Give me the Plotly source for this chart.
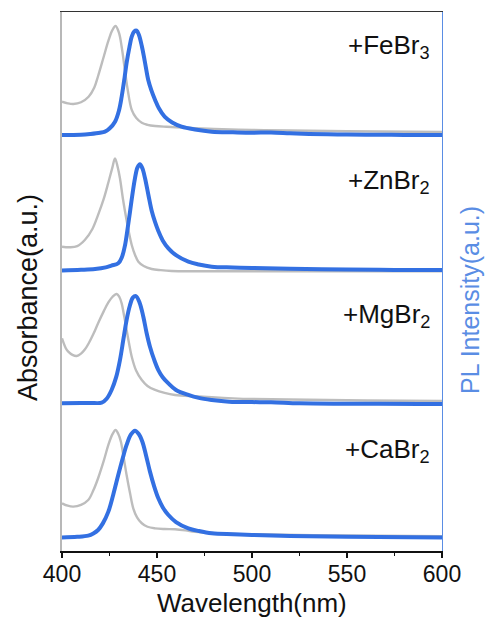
import plotly.graph_objects as go
from plotly.subplots import make_subplots

FONT = "Liberation Sans, Arial, sans-serif"

# ---- data (a.u.) ----
labels = ["+FeBr<sub>3</sub>", "+ZnBr<sub>2</sub>", "+MgBr<sub>2</sub>", "+CaBr<sub>2</sub>"]

fe_abs_wl = [400, 403, 406, 410, 414, 417, 419, 422, 424.4, 426.5, 428.2, 430, 431.4, 433, 434.5, 436.7, 439, 442, 445, 449, 455, 460, 470, 480, 500, 520, 550, 600]
fe_abs = [33.4, 32.2, 31.7, 33.0, 37.1, 44, 52.5, 67, 78.5, 86.5, 89.6, 84.5, 74.2, 58, 43, 27.3, 21.5, 17.8, 16.3, 15.4, 14.8, 14.4, 13.8, 13.2, 12.5, 12.1, 11.5, 10.9]
fe_pl_wl = [400, 410, 415, 420, 422.6, 425, 427.9, 430, 431.4, 433, 434, 435.5, 436.7, 438, 439.3, 440.5, 442, 443.5, 445.4, 447, 449, 451, 454, 458, 462.9, 470, 478.8, 490, 500, 510, 520, 530, 545, 560, 580, 600]
fe_pl = [8.7, 8.9, 9.5, 10.4, 11.2, 13.5, 18.6, 27, 37.1, 52, 62.2, 74, 81.7, 85.5, 86.1, 83, 74.8, 64, 49.5, 42, 34.7, 28.5, 22.3, 18, 14.9, 12.8, 11.2, 10.7, 10.4, 10.6, 10.0, 9.5, 9.1, 8.9, 8.8, 8.7]

zn_abs_wl = [400, 404, 408, 412, 416, 419, 422, 424.4, 426.5, 427.9, 429.3, 430.5, 432, 433.2, 435, 436.7, 438.5, 440.2, 443, 447.2, 452, 457.7, 470, 500, 600]
zn_abs = [25.8, 25.4, 26.2, 30.8, 39, 49.5, 61.5, 73.5, 84.5, 91.4, 85, 76.6, 62, 51.8, 38, 27.1, 19.5, 14.7, 11.5, 9.3, 8.4, 7.8, 7.6, 7.6, 7.6]
zn_pl_wl = [400, 410, 417.4, 423, 426, 429.6, 431.5, 433.2, 434.5, 435.8, 437, 438.4, 439.7, 441, 442.3, 443.7, 445.5, 447.2, 449, 450.7, 453, 456, 460, 466.5, 472, 478.8, 490, 500, 520, 550, 575, 600]
zn_pl = [8.2, 8.7, 9.3, 10.5, 11.8, 13.5, 18, 27.1, 39, 51.8, 64, 76.6, 84.5, 87, 84, 76.6, 64, 52.5, 44, 37.5, 30.5, 24.6, 19.5, 14.7, 12.6, 11, 10.4, 10.0, 9.5, 8.9, 8.6, 8.5]

mg_abs_wl = [400, 402, 403.3, 405.5, 407.7, 410, 412, 414, 416.5, 419, 422, 424.4, 426.5, 428.8, 430.2, 431.4, 432.7, 434, 435.3, 436.7, 439, 442, 445, 449, 454, 459.5, 470, 478.8, 490, 500, 530, 560, 600]
mg_abs = [57.8, 50.5, 47.9, 45.5, 44.7, 46.5, 49.5, 54, 61, 69, 78, 84.5, 88.5, 90.7, 88.5, 83.8, 74.5, 64, 54, 44.2, 34, 26.9, 22.5, 19.5, 17.3, 15.8, 14.8, 14.1, 13.3, 12.8, 12.2, 11.7, 11.3]
mg_pl_wl = [400, 410, 415, 420.9, 423.5, 426.1, 428.5, 430.5, 432.3, 434, 435.7, 437.3, 438.9, 440.8, 442.8, 444.5, 446.3, 448.5, 450.7, 453, 456, 460, 466.5, 472, 478.8, 488, 500, 510, 525, 550, 588, 600]
mg_pl = [9.6, 9.8, 9.9, 10.1, 13, 19.5, 29, 41.7, 57, 71.4, 82, 88, 89.2, 84.5, 73.9, 62, 51.6, 42, 34.3, 29, 24.4, 19.5, 15.8, 13.6, 12.1, 10.8, 10.5, 10.4, 9.6, 9.3, 9.1, 9.1]

ca_abs_wl = [400, 403, 405.9, 410, 413.8, 416.5, 419, 422, 424.4, 426.5, 428.2, 429.6, 431, 432.5, 434, 435.8, 437.5, 439.5, 442, 445, 449, 454, 459.5, 465, 470, 480, 500, 550, 600]
ca_abs = [35.4, 33.6, 32.9, 34.2, 37.8, 45, 54, 67, 78.7, 86.5, 89.8, 87, 81.1, 69, 56.4, 43, 31.7, 25, 20.6, 18, 16.8, 16.3, 16.1, 15.3, 14.3, 13.3, 12.4, 11.5, 11.0]
ca_pl_wl = [400, 408, 413.8, 416.5, 419, 421.5, 424.4, 427, 429.6, 432, 434, 436.3, 438.4, 440.3, 442.3, 444.3, 446.3, 448.5, 450.7, 453, 456, 460, 466.5, 472, 478.8, 490, 500, 520, 550, 600]
ca_pl = [10.1, 10.5, 11.4, 13, 15.6, 20.5, 29.2, 42, 56.4, 69, 78.7, 86.5, 89.3, 87, 81.1, 70.5, 58.9, 48, 39.1, 32.5, 26.7, 21.5, 16.8, 14.8, 13.1, 12.4, 11.9, 11.2, 10.6, 10.1]

x_ticks = [400, 450, 500, 550, 600]

panels = [
    (fe_abs_wl, fe_abs, fe_pl_wl, fe_pl),
    (zn_abs_wl, zn_abs, zn_pl_wl, zn_pl),
    (mg_abs_wl, mg_abs, mg_pl_wl, mg_pl),
    (ca_abs_wl, ca_abs, ca_pl_wl, ca_pl),
]

GRAY = "#bdbdbd"
BLUE = "#3370e2"
AXBLUE = "#5a8de4"

fig = make_subplots(rows=4, cols=1, shared_xaxes=True, vertical_spacing=0,
                    specs=[[{"secondary_y": True}]] * 4)

for i, (aw, a, pw, p) in enumerate(panels):
    r = i + 1
    fig.add_trace(go.Scatter(x=aw, y=a, mode="lines", line=dict(color=GRAY, width=2.4, shape="spline", smoothing=1.0),
                             showlegend=False, hoverinfo="skip"), row=r, col=1, secondary_y=False)
    fig.add_trace(go.Scatter(x=pw, y=p, mode="lines", line=dict(color=BLUE, width=4, shape="spline", smoothing=1.0),
                             showlegend=False, hoverinfo="skip"), row=r, col=1, secondary_y=True)
    fig.update_yaxes(range=[0, 100], showline=True, linecolor="#b8b8b8", linewidth=2,
                     showticklabels=False, ticks="", showgrid=False, zeroline=False, automargin=False,
                     row=r, col=1, secondary_y=False)
    fig.update_yaxes(range=[0, 100], showline=True, linecolor=AXBLUE, linewidth=1.3,
                     showticklabels=False, ticks="", showgrid=False, zeroline=False, automargin=False,
                     row=r, col=1, secondary_y=True)
    xname = "x" if r == 1 else f"x{r}"
    yname = "y" if r == 1 else f"y{2 * r - 1}"
    fig.add_annotation(text=labels[i], xref=f"{xname} domain", yref=f"{yname} domain",
                       x=0.974, y=0.745, xanchor="right", yanchor="middle", showarrow=False,
                       font=dict(family=FONT, size=26, color="#111111"))

fig.update_xaxes(range=[400, 600], domain=[0, 1], showgrid=False, zeroline=False, automargin=False)
fig.update_xaxes(side="top", showline=True, linecolor="#333333", linewidth=1.3,
                 ticks="", showticklabels=False, row=1, col=1)
for r in (2, 3):
    fig.update_xaxes(showline=False, ticks="", showticklabels=False, row=r, col=1)
fig.update_xaxes(showline=True, linecolor="#111111", linewidth=1.6, ticks="outside",
                 ticklen=5, tickwidth=1.5, tickcolor="#111111", tickvals=x_ticks,
                 showticklabels=True, ticklabelstandoff=-3,
                 tickfont=dict(family=FONT, size=23, color="#111111"),
                 minor=dict(dtick=25, ticks="outside", ticklen=3, tickwidth=1.2, tickcolor="#111111"),
                 row=4, col=1)

fig.add_annotation(text="Wavelength(nm)", xref="paper", yref="paper", x=0.5, y=-0.0965,
                   xanchor="center", yanchor="middle", showarrow=False,
                   font=dict(family=FONT, size=26, color="#111111"))
fig.add_annotation(text="Absorbance(a.u.)", xref="paper", yref="paper", x=-0.0895, y=0.471,
                   xanchor="center", yanchor="middle", textangle=-90, showarrow=False,
                   font=dict(family=FONT, size=27, color="#111111"))
fig.add_annotation(text="PL Intensity(a.u.)", xref="paper", yref="paper", x=1.074, y=0.466,
                   xanchor="center", yanchor="middle", textangle=-90, showarrow=False,
                   font=dict(family=FONT, size=25, color=AXBLUE))

# page has an 8px body margin: plot area placed so it lands at x 62-442, y 12-551 in the window
fig.update_layout(width=478, height=613, margin=dict(l=54, r=44, t=4, b=70, autoexpand=False),
                  plot_bgcolor="white", paper_bgcolor="white",
                  font=dict(family=FONT))

fig.write_html("out.html")
